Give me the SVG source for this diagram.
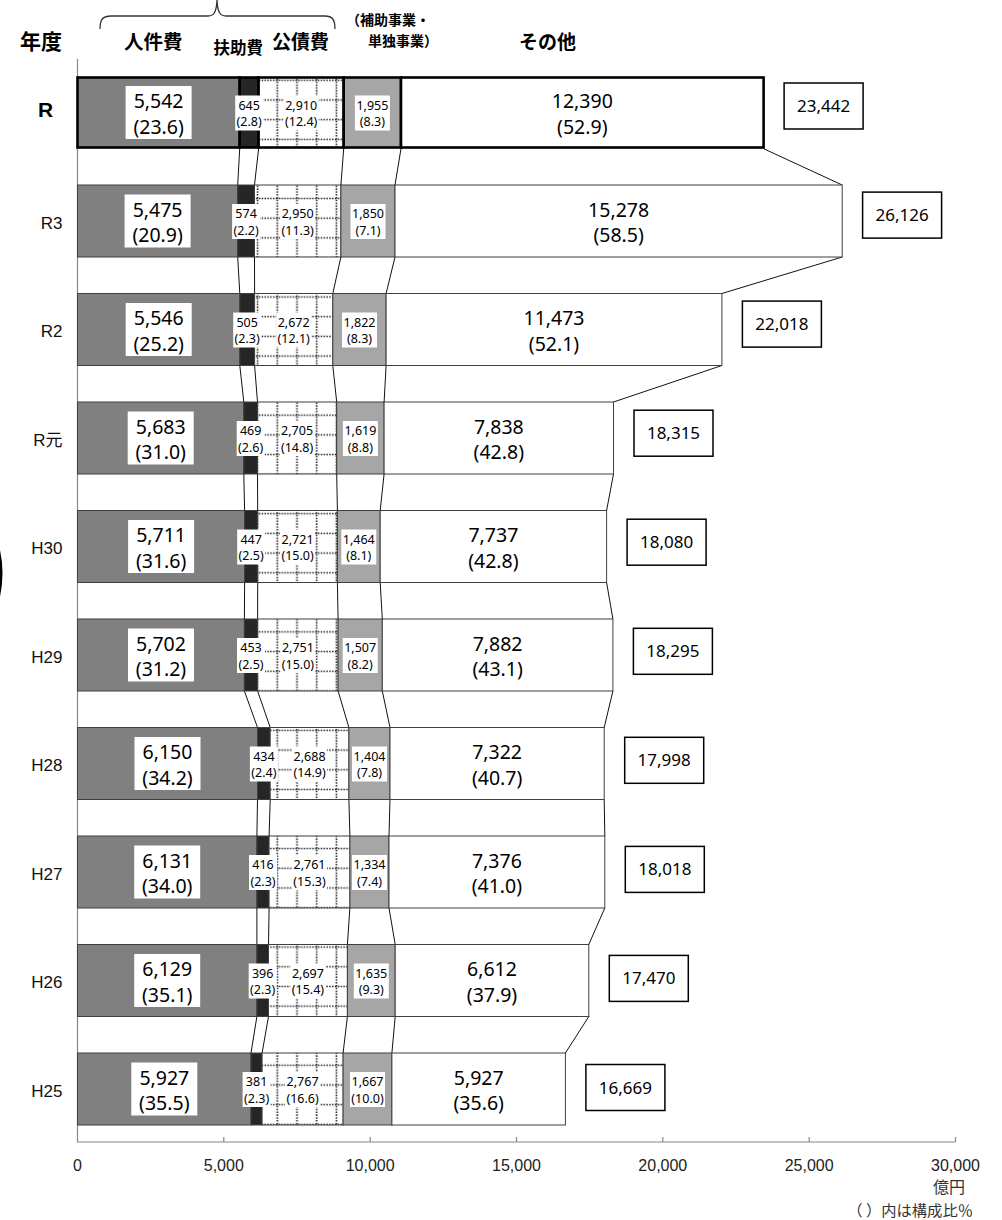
<svg xmlns="http://www.w3.org/2000/svg" width="1002" height="1220" viewBox="0 0 1002 1220">
<style>
.s1{fill:#808080}.s2{fill:#262626}.s3{fill:url(#grid)}.s4{fill:#a6a6a6}.s5{fill:#fff}
.bar rect{stroke:#3f3f3f;stroke-width:1}
.bar rect.lb{fill:#fff;stroke:none}
#row-R rect.seg{stroke:#000;stroke-width:2.6}
.big{font-family:"Noto Sans","Liberation Sans",sans-serif;font-size:19.5px;text-anchor:middle;fill:#000}
.sm{font-family:"Noto Sans","Liberation Sans",sans-serif;font-size:12.5px;text-anchor:middle;fill:#000}
.tot{font-family:"Noto Sans","Liberation Sans",sans-serif;font-size:17px;text-anchor:middle;fill:#000}
.tbox{fill:#fff;stroke:#000;stroke-width:1.5}
.yr{font-family:"Liberation Sans","Noto Sans CJK JP",sans-serif;font-size:17px;text-anchor:end;fill:#111}
.hd{font-family:"Noto Sans CJK JP","Noto Sans",sans-serif;font-weight:bold;fill:#000}
.ax{font-family:"Liberation Sans",sans-serif;font-size:16px;text-anchor:middle;fill:#222}
.note{font-family:"Noto Sans CJK JP",sans-serif;text-anchor:end;fill:#333}
.con path{fill:none;stroke:#111;stroke-width:1}
</style>
<defs>
<pattern id="grid" width="19.7" height="19.7" patternUnits="userSpaceOnUse">
<rect width="19.7" height="19.7" fill="#fff"/>
<path d="M0 1.5H19.7M1.5 0V19.7" stroke="#222" stroke-width="1.6" stroke-dasharray="1.5 1.3"/>
</pattern>
</defs>
<rect width="1002" height="1220" fill="#fff"/>

<g id="header">
<path d="M100,29 C100,19 103,16 111,16 L208,16 C214,16 216.5,12 217,0 C217.5,12 220,16 226,16 L325,16 C332,16 335,19 335,29" fill="none" stroke="#333" stroke-width="1.3"/>
<text class="hd" x="20" y="49" font-size="21">年度</text>
<text class="hd" x="124" y="49" font-size="19.5">人件費</text>
<text class="hd" x="213.5" y="54" font-size="16.5">扶助費</text>
<text class="hd" x="272" y="49" font-size="19">公債費</text>
<text class="hd" x="346" y="25" font-size="14">（補助事業・</text>
<text class="hd" x="368" y="46" font-size="14">単独事業）</text>
<text class="hd" x="519" y="49" font-size="19">その他</text>
</g>

<g id="axis">
<path d="M77.5,59V1142H955.5M223.8,1137V1142M370.2,1137V1142M516.5,1137V1142M662.8,1137V1142M809.2,1137V1142M955.5,1137V1142" fill="none" stroke="#888" stroke-width="1.2"/>
<text class="ax" x="77.5" y="1170.5">0</text>
<text class="ax" x="223.8" y="1170.5">5,000</text>
<text class="ax" x="370.2" y="1170.5">10,000</text>
<text class="ax" x="516.5" y="1170.5">15,000</text>
<text class="ax" x="662.8" y="1170.5">20,000</text>
<text class="ax" x="809.2" y="1170.5">25,000</text>
<text class="ax" x="955.5" y="1170.5">30,000</text>
<text class="note" x="965" y="1193" font-size="16">億円</text>
<text class="note" x="973" y="1215.5" font-size="15.3">（ ）内は構成比％</text>
</g>

<path d="M-2,547 Q4.5,573 -2,600" fill="none" stroke="#000" stroke-width="2.5"/>

<g id="connectors" class="con">
<path d="M239.7,148.7L237.7,185M258.6,148.7L254.5,185M343.7,148.7L340.9,185M401,148.7L395,185M763.6,148.7L842.2,185"/>
<path d="M237.7,257L239.8,293.5M254.5,257L254.6,293.5M340.9,257L332.8,293.5M395,257L386.1,293.5M842.2,257L721.9,293.5"/>
<path d="M239.8,365.5L243.8,402M254.6,365.5L257.5,402M332.8,365.5L336.7,402M386.1,365.5L384.1,402M721.9,365.5L613.5,402"/>
<path d="M243.8,474L244.6,510.5M257.5,474L257.7,510.5M336.7,474L337.4,510.5M384.1,474L380.2,510.5M613.5,474L606.6,510.5"/>
<path d="M244.6,582.5L244.4,619M257.7,582.5L257.6,619M337.4,582.5L338.1,619M380.2,582.5L382.3,619M606.6,582.5L612.9,619"/>
<path d="M244.4,691L257.5,727.5M257.6,691L270.2,727.5M338.1,691L348.9,727.5M382.3,691L390,727.5M612.9,691L604.2,727.5"/>
<path d="M257.5,799.5L256.9,836M270.2,799.5L269.1,836M348.9,799.5L349.9,836M390,799.5L389,836M604.2,799.5L604.8,836"/>
<path d="M256.9,908L256.9,944.5M269.1,908L268.5,944.5M349.9,908L347.4,944.5M389,908L395.2,944.5M604.8,908L588.8,944.5"/>
<path d="M256.9,1016.5L251,1053M268.5,1016.5L262.1,1053M347.4,1016.5L343.1,1053M395.2,1016.5L391.9,1053M588.8,1016.5L565.4,1053"/>
</g>

<g id="row-R" class="bar">
<rect class="seg s1" x="77.5" y="77.5" width="162.2" height="70"/>
<rect class="seg s2" x="239.7" y="77.5" width="18.9" height="70"/>
<rect class="seg s3" x="258.6" y="77.5" width="85.1" height="70"/>
<rect class="seg s4" x="343.7" y="77.5" width="57.3" height="70"/>
<rect class="seg s5" x="401" y="77.5" width="362.6" height="70"/>
<rect class="lb" x="125.6" y="86" width="66" height="53"/>
<text class="big" x="158.6" y="108">5,542</text><text class="big" x="158.6" y="133.5">(23.6)</text>
<rect class="lb" x="235.2" y="95.5" width="28" height="35"/>
<text class="sm" x="249.2" y="109.5">645</text><text class="sm" x="249.2" y="126">(2.8)</text>
<rect class="lb" x="283.7" y="95.5" width="35" height="35"/>
<text class="sm" x="301.2" y="109.5">2,910</text><text class="sm" x="301.2" y="126">(12.4)</text>
<rect class="lb" x="354.9" y="95.5" width="35" height="35"/>
<text class="sm" x="372.4" y="109.5">1,955</text><text class="sm" x="372.4" y="126">(8.3)</text>
<text class="big" x="582.3" y="108">12,390</text><text class="big" x="582.3" y="133.5">(52.9)</text>
<text x="38" y="116.7" font-family="Liberation Sans, sans-serif" font-weight="bold" font-size="21">R</text>
</g>
<g id="total-R"><rect class="tbox" x="784.1" y="83" width="79" height="46"/><text class="tot" x="823.6" y="112">23,442</text></g>

<g id="row-R3" class="bar">
<rect class="s1" x="77.5" y="185" width="160.2" height="72"/>
<rect class="s2" x="237.7" y="185" width="16.8" height="72"/>
<rect class="s3" x="254.5" y="185" width="86.4" height="72"/>
<rect class="s4" x="340.9" y="185" width="54.1" height="72"/>
<rect class="s5" x="395" y="185" width="447.2" height="72"/>
<rect class="lb" x="124.6" y="194.5" width="66" height="53"/>
<text class="big" x="157.6" y="216.5">5,475</text><text class="big" x="157.6" y="242">(20.9)</text>
<rect class="lb" x="232.1" y="204" width="28" height="35"/>
<text class="sm" x="246.1" y="218">574</text><text class="sm" x="246.1" y="234.5">(2.2)</text>
<rect class="lb" x="280.2" y="204" width="35" height="35"/>
<text class="sm" x="297.7" y="218">2,950</text><text class="sm" x="297.7" y="234.5">(11.3)</text>
<rect class="lb" x="350.5" y="204" width="35" height="35"/>
<text class="sm" x="368" y="218">1,850</text><text class="sm" x="368" y="234.5">(7.1)</text>
<text class="big" x="618.6" y="216.5">15,278</text><text class="big" x="618.6" y="242">(58.5)</text>
<text class="yr" x="62.5" y="228.5">R3</text>
</g>
<g id="total-R3"><rect class="tbox" x="862.6" y="192.1" width="79" height="46"/><text class="tot" x="902.1" y="221.1">26,126</text></g>

<g id="row-R2" class="bar">
<rect class="s1" x="77.5" y="293.5" width="162.3" height="72"/>
<rect class="s2" x="239.8" y="293.5" width="14.8" height="72"/>
<rect class="s3" x="254.6" y="293.5" width="78.2" height="72"/>
<rect class="s4" x="332.8" y="293.5" width="53.3" height="72"/>
<rect class="s5" x="386.1" y="293.5" width="335.8" height="72"/>
<rect class="lb" x="125.7" y="303" width="66" height="53"/>
<text class="big" x="158.7" y="325">5,546</text><text class="big" x="158.7" y="350.5">(25.2)</text>
<rect class="lb" x="233.2" y="312.5" width="28" height="35"/>
<text class="sm" x="247.2" y="326.5">505</text><text class="sm" x="247.2" y="343">(2.3)</text>
<rect class="lb" x="276.2" y="312.5" width="35" height="35"/>
<text class="sm" x="293.7" y="326.5">2,672</text><text class="sm" x="293.7" y="343">(12.1)</text>
<rect class="lb" x="342" y="312.5" width="35" height="35"/>
<text class="sm" x="359.5" y="326.5">1,822</text><text class="sm" x="359.5" y="343">(8.3)</text>
<text class="big" x="554" y="325">11,473</text><text class="big" x="554" y="350.5">(52.1)</text>
<text class="yr" x="62.5" y="337">R2</text>
</g>
<g id="total-R2"><rect class="tbox" x="742.4" y="301.1" width="79" height="46"/><text class="tot" x="781.9" y="330.1">22,018</text></g>

<g id="row-R1" class="bar">
<rect class="s1" x="77.5" y="402" width="166.3" height="72"/>
<rect class="s2" x="243.8" y="402" width="13.7" height="72"/>
<rect class="s3" x="257.5" y="402" width="79.2" height="72"/>
<rect class="s4" x="336.7" y="402" width="47.4" height="72"/>
<rect class="s5" x="384.1" y="402" width="229.4" height="72"/>
<rect class="lb" x="127.7" y="411.5" width="66" height="53"/>
<text class="big" x="160.7" y="433.5">5,683</text><text class="big" x="160.7" y="459">(31.0)</text>
<rect class="lb" x="236.7" y="421" width="28" height="35"/>
<text class="sm" x="250.7" y="435">469</text><text class="sm" x="250.7" y="451.5">(2.6)</text>
<rect class="lb" x="279.6" y="421" width="35" height="35"/>
<text class="sm" x="297.1" y="435">2,705</text><text class="sm" x="297.1" y="451.5">(14.8)</text>
<rect class="lb" x="342.9" y="421" width="35" height="35"/>
<text class="sm" x="360.4" y="435">1,619</text><text class="sm" x="360.4" y="451.5">(8.8)</text>
<text class="big" x="498.8" y="433.5">7,838</text><text class="big" x="498.8" y="459">(42.8)</text>
<text class="yr" x="62.5" y="445.5">R元</text>
</g>
<g id="total-R1"><rect class="tbox" x="634" y="410.2" width="79" height="46"/><text class="tot" x="673.5" y="439.2">18,315</text></g>

<g id="row-H30" class="bar">
<rect class="s1" x="77.5" y="510.5" width="167.1" height="72"/>
<rect class="s2" x="244.6" y="510.5" width="13.1" height="72"/>
<rect class="s3" x="257.7" y="510.5" width="79.7" height="72"/>
<rect class="s4" x="337.4" y="510.5" width="42.8" height="72"/>
<rect class="s5" x="380.2" y="510.5" width="226.4" height="72"/>
<rect class="lb" x="128.1" y="520" width="66" height="53"/>
<text class="big" x="161.1" y="542">5,711</text><text class="big" x="161.1" y="567.5">(31.6)</text>
<rect class="lb" x="237.2" y="529.5" width="28" height="35"/>
<text class="sm" x="251.2" y="543.5">447</text><text class="sm" x="251.2" y="560">(2.5)</text>
<rect class="lb" x="280.1" y="529.5" width="35" height="35"/>
<text class="sm" x="297.6" y="543.5">2,721</text><text class="sm" x="297.6" y="560">(15.0)</text>
<rect class="lb" x="341.3" y="529.5" width="35" height="35"/>
<text class="sm" x="358.8" y="543.5">1,464</text><text class="sm" x="358.8" y="560">(8.1)</text>
<text class="big" x="493.4" y="542">7,737</text><text class="big" x="493.4" y="567.5">(42.8)</text>
<text class="yr" x="62.5" y="554">H30</text>
</g>
<g id="total-H30"><rect class="tbox" x="627.1" y="519.2" width="79" height="46"/><text class="tot" x="666.6" y="548.2">18,080</text></g>

<g id="row-H29" class="bar">
<rect class="s1" x="77.5" y="619" width="166.9" height="72"/>
<rect class="s2" x="244.4" y="619" width="13.2" height="72"/>
<rect class="s3" x="257.6" y="619" width="80.5" height="72"/>
<rect class="s4" x="338.1" y="619" width="44.2" height="72"/>
<rect class="s5" x="382.3" y="619" width="230.6" height="72"/>
<rect class="lb" x="128" y="628.5" width="66" height="53"/>
<text class="big" x="161" y="650.5">5,702</text><text class="big" x="161" y="676">(31.2)</text>
<rect class="lb" x="237" y="638" width="28" height="35"/>
<text class="sm" x="251" y="652">453</text><text class="sm" x="251" y="668.5">(2.5)</text>
<rect class="lb" x="280.4" y="638" width="35" height="35"/>
<text class="sm" x="297.9" y="652">2,751</text><text class="sm" x="297.9" y="668.5">(15.0)</text>
<rect class="lb" x="342.7" y="638" width="35" height="35"/>
<text class="sm" x="360.2" y="652">1,507</text><text class="sm" x="360.2" y="668.5">(8.2)</text>
<text class="big" x="497.6" y="650.5">7,882</text><text class="big" x="497.6" y="676">(43.1)</text>
<text class="yr" x="62.5" y="662.5">H29</text>
</g>
<g id="total-H29"><rect class="tbox" x="633.4" y="628.3" width="79" height="46"/><text class="tot" x="672.9" y="657.3">18,295</text></g>

<g id="row-H28" class="bar">
<rect class="s1" x="77.5" y="727.5" width="180" height="72"/>
<rect class="s2" x="257.5" y="727.5" width="12.7" height="72"/>
<rect class="s3" x="270.2" y="727.5" width="78.7" height="72"/>
<rect class="s4" x="348.9" y="727.5" width="41.1" height="72"/>
<rect class="s5" x="390" y="727.5" width="214.2" height="72"/>
<rect class="lb" x="134.5" y="737" width="66" height="53"/>
<text class="big" x="167.5" y="759">6,150</text><text class="big" x="167.5" y="784.5">(34.2)</text>
<rect class="lb" x="249.9" y="746.5" width="28" height="35"/>
<text class="sm" x="263.9" y="760.5">434</text><text class="sm" x="263.9" y="777">(2.4)</text>
<rect class="lb" x="292.1" y="746.5" width="35" height="35"/>
<text class="sm" x="309.6" y="760.5">2,688</text><text class="sm" x="309.6" y="777">(14.9)</text>
<rect class="lb" x="352" y="746.5" width="35" height="35"/>
<text class="sm" x="369.5" y="760.5">1,404</text><text class="sm" x="369.5" y="777">(7.8)</text>
<text class="big" x="497.1" y="759">7,322</text><text class="big" x="497.1" y="784.5">(40.7)</text>
<text class="yr" x="62.5" y="771">H28</text>
</g>
<g id="total-H28"><rect class="tbox" x="624.7" y="737.3" width="79" height="46"/><text class="tot" x="664.2" y="766.3">17,998</text></g>

<g id="row-H27" class="bar">
<rect class="s1" x="77.5" y="836" width="179.4" height="72"/>
<rect class="s2" x="256.9" y="836" width="12.2" height="72"/>
<rect class="s3" x="269.1" y="836" width="80.8" height="72"/>
<rect class="s4" x="349.9" y="836" width="39.1" height="72"/>
<rect class="s5" x="389" y="836" width="215.8" height="72"/>
<rect class="lb" x="134.2" y="845.5" width="66" height="53"/>
<text class="big" x="167.2" y="867.5">6,131</text><text class="big" x="167.2" y="893">(34.0)</text>
<rect class="lb" x="249" y="855" width="28" height="35"/>
<text class="sm" x="263" y="869">416</text><text class="sm" x="263" y="885.5">(2.3)</text>
<rect class="lb" x="292" y="855" width="35" height="35"/>
<text class="sm" x="309.5" y="869">2,761</text><text class="sm" x="309.5" y="885.5">(15.3)</text>
<rect class="lb" x="352" y="855" width="35" height="35"/>
<text class="sm" x="369.5" y="869">1,334</text><text class="sm" x="369.5" y="885.5">(7.4)</text>
<text class="big" x="496.9" y="867.5">7,376</text><text class="big" x="496.9" y="893">(41.0)</text>
<text class="yr" x="62.5" y="879.5">H27</text>
</g>
<g id="total-H27"><rect class="tbox" x="625.3" y="846.4" width="79" height="46"/><text class="tot" x="664.8" y="875.4">18,018</text></g>

<g id="row-H26" class="bar">
<rect class="s1" x="77.5" y="944.5" width="179.4" height="72"/>
<rect class="s2" x="256.9" y="944.5" width="11.6" height="72"/>
<rect class="s3" x="268.5" y="944.5" width="78.9" height="72"/>
<rect class="s4" x="347.4" y="944.5" width="47.8" height="72"/>
<rect class="s5" x="395.2" y="944.5" width="193.6" height="72"/>
<rect class="lb" x="134.2" y="954" width="66" height="53"/>
<text class="big" x="167.2" y="976">6,129</text><text class="big" x="167.2" y="1001.5">(35.1)</text>
<rect class="lb" x="248.7" y="963.5" width="28" height="35"/>
<text class="sm" x="262.7" y="977.5">396</text><text class="sm" x="262.7" y="994">(2.3)</text>
<rect class="lb" x="290.4" y="963.5" width="35" height="35"/>
<text class="sm" x="307.9" y="977.5">2,697</text><text class="sm" x="307.9" y="994">(15.4)</text>
<rect class="lb" x="353.8" y="963.5" width="35" height="35"/>
<text class="sm" x="371.3" y="977.5">1,635</text><text class="sm" x="371.3" y="994">(9.3)</text>
<text class="big" x="492" y="976">6,612</text><text class="big" x="492" y="1001.5">(37.9)</text>
<text class="yr" x="62.5" y="988">H26</text>
</g>
<g id="total-H26"><rect class="tbox" x="609.3" y="955.4" width="79" height="46"/><text class="tot" x="648.8" y="984.4">17,470</text></g>

<g id="row-H25" class="bar">
<rect class="s1" x="77.5" y="1053" width="173.5" height="72"/>
<rect class="s2" x="251" y="1053" width="11.1" height="72"/>
<rect class="s3" x="262.1" y="1053" width="81" height="72"/>
<rect class="s4" x="343.1" y="1053" width="48.8" height="72"/>
<rect class="s5" x="391.9" y="1053" width="173.5" height="72"/>
<rect class="lb" x="131.3" y="1062.5" width="66" height="53"/>
<text class="big" x="164.3" y="1084.5">5,927</text><text class="big" x="164.3" y="1110">(35.5)</text>
<rect class="lb" x="242.6" y="1072" width="28" height="35"/>
<text class="sm" x="256.6" y="1086">381</text><text class="sm" x="256.6" y="1102.5">(2.3)</text>
<rect class="lb" x="285.1" y="1072" width="35" height="35"/>
<text class="sm" x="302.6" y="1086">2,767</text><text class="sm" x="302.6" y="1102.5">(16.6)</text>
<rect class="lb" x="350" y="1072" width="35" height="35"/>
<text class="sm" x="367.5" y="1086">1,667</text><text class="sm" x="367.5" y="1102.5">(10.0)</text>
<text class="big" x="478.7" y="1084.5">5,927</text><text class="big" x="478.7" y="1110">(35.6)</text>
<text class="yr" x="62.5" y="1096.5">H25</text>
</g>
<g id="total-H25"><rect class="tbox" x="585.9" y="1064.5" width="79" height="46"/><text class="tot" x="625.4" y="1093.5">16,669</text></g>
</svg>
